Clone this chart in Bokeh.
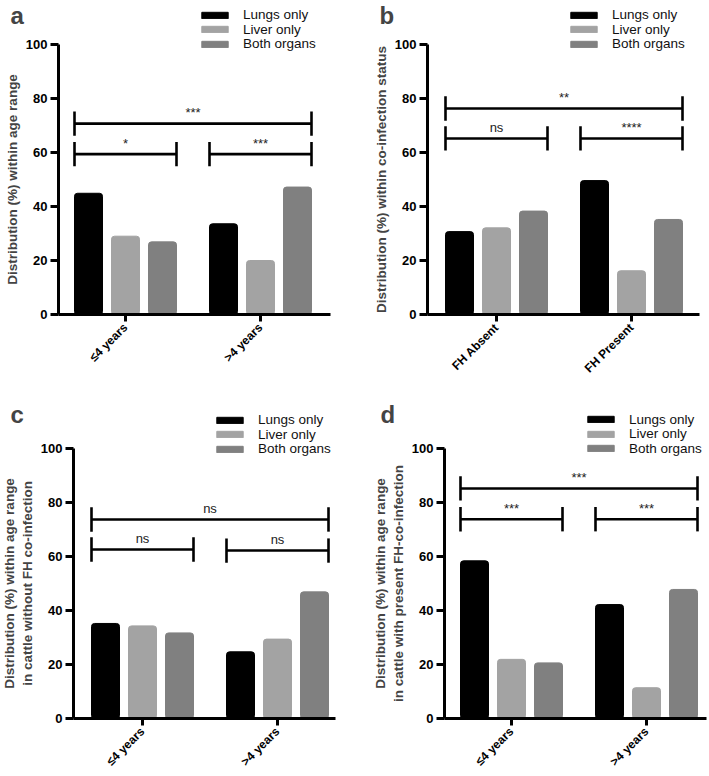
from bokeh.plotting import figure
from bokeh.layouts import row, column
from bokeh.models import Range1d, FixedTicker, Legend, LegendItem, Label, ColumnDataSource
from bokeh.embed import file_html
from bokeh.resources import INLINE
from bokeh.core.properties import value

# ---------------- data ----------------
SERIES = ["Lungs only", "Liver only", "Both organs"]
COLORS = ["#000000", "#a3a3a3", "#808080"]

AGE_GROUPS = ["≤4 years", ">4 years"]
FH_GROUPS = ["FH Absent", "FH Present"]

# panel a: distribution within age range
a_lungs = [44.9, 33.6]
a_liver = [29.0, 20.0]
a_both = [26.9, 47.2]
a_br_from = [0, 0, 1]
a_br_to = [1, 0, 1]
a_br_level = [70.7, 59.4, 59.4]
a_br_label = ["***", "*", "***"]

# panel b: distribution within co-infection status
b_lungs = [30.7, 49.6]
b_liver = [32.1, 16.2]
b_both = [38.3, 35.2]
b_br_from = [0, 0, 1]
b_br_to = [1, 0, 1]
b_br_level = [76.3, 65.2, 65.2]
b_br_label = ["**", "ns", "****"]

# panel c: age range, cattle without FH co-infection
c_lungs = [35.2, 24.7]
c_liver = [34.3, 29.4]
c_both = [31.7, 46.9]
c_br_from = [0, 0, 1]
c_br_to = [1, 0, 1]
c_br_level = [73.7, 62.6, 62.2]
c_br_label = ["ns", "ns", "ns"]

# panel d: age range, cattle with present FH co-infection
d_lungs = [58.4, 42.2]
d_liver = [21.9, 11.4]
d_both = [20.6, 47.8]
d_br_from = [0, 0, 1]
d_br_to = [1, 0, 1]
d_br_level = [85.2, 73.8, 73.8]
d_br_label = ["***", "***", "***"]

Y_TICKS = [0, 20, 40, 60, 80, 100]

# ---------------- styling / geometry (pixels) ----------------
FONT = "Liberation Sans"
GROUP_PX = 135.0
PPU = 2.7
BAR_OFF = 37.0 / GROUP_PX
BAR_W = 28.0 / GROUP_PX
CAP = 4.5
FIG_W = 354
LEG_ROW_PX = 14.6
LEG_HALF_PX = 7.5


def panel(letter, groups, vals, br_from, br_to, br_level, br_label, ylabel,
          g0_px, axis_px, axis_end_px, height, zero_px, legend_x, legend_row1, letter_xy):
    x_start = -g0_px / GROUP_PX
    x_end = (FIG_W - g0_px) / GROUP_PX
    y_axis_at = (axis_px - g0_px) / GROUP_PX
    x_axis_end = (axis_end_px - g0_px) / GROUP_PX
    y_start = -(height - zero_px) / PPU
    y_end = zero_px / PPU

    p = figure(width=FIG_W, height=height, output_backend="svg", toolbar_location=None,
               x_range=Range1d(x_start, x_end), y_range=Range1d(y_start, y_end),
               min_border_left=0, min_border_right=0,
               min_border_top=0, min_border_bottom=0)
    p.outline_line_color = None
    p.xgrid.visible = False
    p.ygrid.visible = False

    renderers = []
    for k, (name, col) in enumerate(zip(SERIES, COLORS)):
        xs = [g + (k - 1) * BAR_OFF for g in range(len(groups))]
        src = ColumnDataSource(dict(x=xs, top=vals[k]))
        r = p.vbar(x="x", top="top", width=BAR_W, bottom=0, source=src,
                   fill_color=col, line_color=col, line_width=1, border_radius=3)
        renderers.append(r)

    # significance brackets
    x0 = [g - BAR_OFF - BAR_W / 2 for g in br_from]
    x1 = [g + BAR_OFF + BAR_W / 2 for g in br_to]
    bsrc = ColumnDataSource(dict(x0=x0, x1=x1, y=br_level,
                                 lo=[v - CAP for v in br_level], hi=[v + CAP for v in br_level],
                                 xm=[(a + b) / 2 for a, b in zip(x0, x1)],
                                 ty=[v + 1.2 for v in br_level], lab=br_label))
    p.segment(x0="x0", y0="y", x1="x1", y1="y", source=bsrc, line_color="black", line_width=2.6)
    p.segment(x0="x0", y0="lo", x1="x0", y1="hi", source=bsrc, line_color="black", line_width=2.6)
    p.segment(x0="x1", y0="lo", x1="x1", y1="hi", source=bsrc, line_color="black", line_width=2.6)
    p.text(x="xm", y="ty", text="lab", source=bsrc, text_align="center", text_baseline="bottom",
           text_font=value(FONT), text_font_size="13px", text_color="#222222")

    # legend: one row per series, stacked tightly
    for k, (name, r) in enumerate(zip(SERIES, renderers)):
        row_center = legend_row1 + k * LEG_ROW_PX
        leg = Legend(items=[LegendItem(label=name, renderers=[r])],
                     location=(legend_x, height - row_center - LEG_HALF_PX),
                     padding=0, margin=0, spacing=0,
                     glyph_width=33, glyph_height=8, label_height=12, label_standoff=12,
                     label_text_font=FONT, label_text_font_size="13.5px", label_text_color="#111111",
                     background_fill_alpha=0, border_line_color=None)
        p.add_layout(leg, "center")

    # axes
    for ax in (p.xaxis[0], p.yaxis[0]):
        ax.axis_line_width = 3
        ax.axis_line_color = "black"
        ax.major_tick_line_width = 3
        ax.major_tick_line_color = "black"
        ax.major_tick_in = 0
        ax.major_tick_out = 8
        ax.minor_tick_line_color = None
        ax.major_label_text_font = FONT
        ax.major_label_text_font_style = "bold"
        ax.major_label_text_color = "black"

    yax = p.yaxis[0]
    yax.fixed_location = y_axis_at
    yax.ticker = FixedTicker(ticks=Y_TICKS)
    yax.bounds = (0, 100)
    yax.major_label_text_font_size = "13px"
    yax.major_label_standoff = 3
    yax.axis_label = ylabel
    yax.axis_label_text_font = FONT
    yax.axis_label_text_font_style = "bold"
    yax.axis_label_text_font_size = "13.5px"
    yax.axis_label_standoff = 3

    xax = p.xaxis[0]
    xax.fixed_location = 0
    xax.bounds = (y_axis_at, x_axis_end)
    xax.ticker = FixedTicker(ticks=list(range(len(groups))))
    xax.major_label_overrides = {i: g for i, g in enumerate(groups)}
    xax.major_label_orientation = 0.785398
    xax.major_label_text_font_size = "12px"
    xax.major_label_standoff = 4
    xax.major_tick_out = 7

    p.add_layout(Label(x=letter_xy[0], y=letter_xy[1], x_units="screen", y_units="screen",
                       text=letter, text_font=FONT, text_font_style="bold",
                       text_font_size="24px", text_baseline="alphabetic"))
    return p


pa = panel("a", AGE_GROUPS, [a_lungs, a_liver, a_both], a_br_from, a_br_to, a_br_level, a_br_label,
           "Distribution (%) within age range",
           g0_px=125, axis_px=58, axis_end_px=330, height=388, zero_px=314,
           legend_x=198, legend_row1=14.5, letter_xy=(10, 373))
pb = panel("b", FH_GROUPS, [b_lungs, b_liver, b_both], b_br_from, b_br_to, b_br_level, b_br_label,
           "Distribution (%) within co-infection status",
           g0_px=142, axis_px=73, axis_end_px=345, height=388, zero_px=314,
           legend_x=213, legend_row1=14.5, letter_xy=(25, 373))
pc = panel("c", AGE_GROUPS, [c_lungs, c_liver, c_both], c_br_from, c_br_to, c_br_level, c_br_label,
           "Distribution (%) within age range\nin cattle without FH co-infection",
           g0_px=142, axis_px=73, axis_end_px=335, height=386, zero_px=330,
           legend_x=213, legend_row1=31.5, letter_xy=(10, 360))
pd_ = panel("d", AGE_GROUPS, [d_lungs, d_liver, d_both], d_br_from, d_br_to, d_br_level, d_br_label,
            "Distribution (%) within age range\nin cattle with present FH-co-infection",
            g0_px=157, axis_px=90, axis_end_px=352, height=386, zero_px=330,
            legend_x=230, legend_row1=31, letter_xy=(26, 360))

layout = column(row(pa, pb), row(pc, pd_))
open("out.html", "w").write(file_html(layout, INLINE))
